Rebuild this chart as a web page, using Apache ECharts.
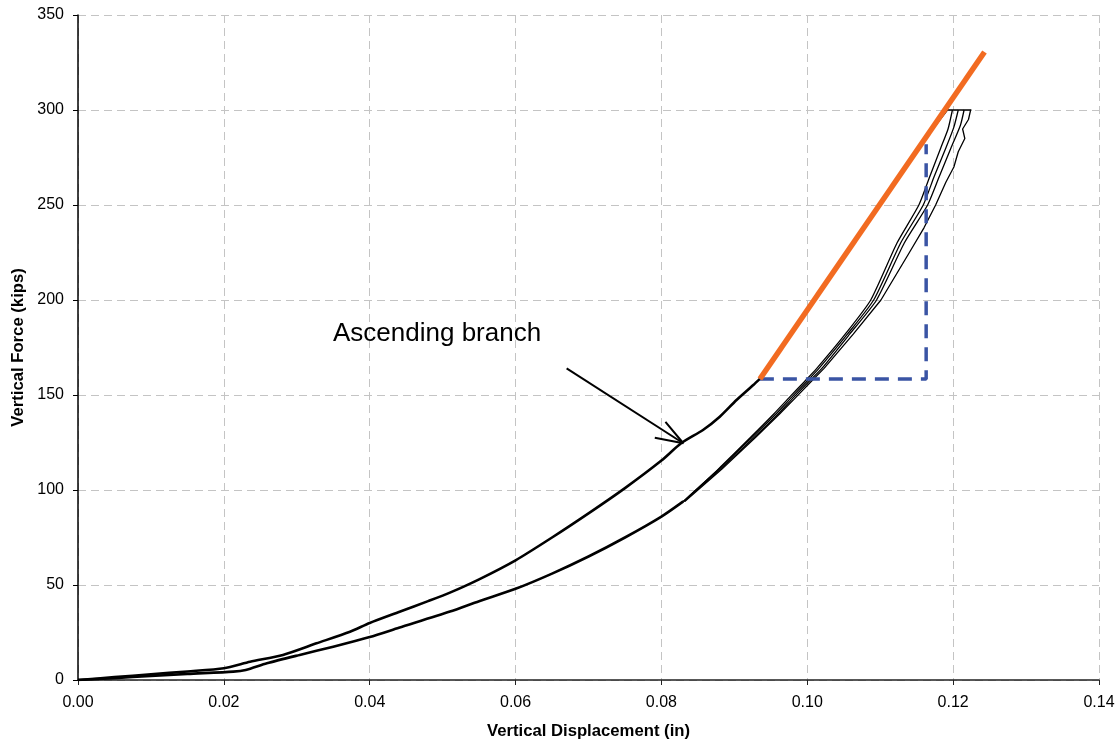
<!DOCTYPE html>
<html>
<head>
<meta charset="utf-8">
<script src="https://cdn.jsdelivr.net/npm/echarts@6/dist/echarts.min.js"></script>
<style>
html,body{margin:0;padding:0;background:#fff;}
#chart{width:1119px;height:744px;}
</style>
</head>
<body>
<div id="chart"></div>
<script>
// ---- data (x: vertical displacement in, y: vertical force kips) ----
const xAxisName = 'Vertical Displacement (in)';
const yAxisName = 'Vertical Force (kips)';
const annotationText = 'Ascending branch';

// ascending (loading) branch: curved part, then straight part up to the 300 kip plateau
const ascending = [[0,0],[0.005,1.5],[0.010,3.0],[0.015,4.5],[0.020,6.2],[0.0236,9.6],[0.0281,13.2],[0.0327,19.3],
  [0.0373,25.4],[0.040,30.0],[0.0441,35.9],[0.048,41.5],[0.051,46],[0.055,53],[0.060,63],[0.065,75],[0.070,87.7],
  [0.075,101],[0.080,115.5],[0.0827,124.6],[0.0857,131.6],[0.088,138.6],[0.0903,147.4],[0.0926,155.3],[0.0935,158.5]];
const ascendingTop = [[0.0935,158.5],[0.097,178],[0.100,195],[0.105,223],[0.110,251],[0.115,279],[0.1192,300],[0.1225,300]];

// descending cycles (upper parts differ, lower tail shared)
const cycle1Top = [[0.1199,300],[0.1193,290],[0.1183,280],[0.1168,265],[0.1153,250],[0.1123,230],[0.1087,200],
  [0.1052,182],[0.1013,164],[0.0996,157],[0.0976,149],[0.0954,140],[0.0923,128],[0.0878,111],[0.0830,94]];
const cycle2Top = [[0.1207,300],[0.1201,291],[0.1190,280],[0.1174,265],[0.1159,250],[0.1128,230],[0.1091,200],
  [0.1055,182],[0.1016,164],[0.0999,157],[0.0979,149],[0.0957,140],[0.0925,128],[0.0879,111],[0.0830,94]];
const cycle3Top = [[0.1215,300],[0.1210,292],[0.1197,280],[0.1181,265],[0.1165,250],[0.1133,230],[0.1095,200],
  [0.1058,182],[0.1020,164],[0.1002,157],[0.0982,149],[0.0960,140],[0.0928,128],[0.0881,111],[0.0831,94]];
const cycle4Top = [[0.1224,300],[0.1221,295],[0.1213,290],[0.1216,285],[0.1207,278],[0.1201,270],[0.1190,262],
  [0.1176,250],[0.1160,238],[0.1140,225],[0.1101,200],[0.1063,182],[0.1023,164],[0.1005,157],[0.0985,149],
  [0.0962,140],[0.0930,128],[0.0883,111],[0.0832,94]];
const lowerTail = [[0.0830,94],[0.0800,86],[0.0750,75],[0.0700,65],[0.0650,56],[0.0600,48],[0.0550,41.5],
  [0.0510,36],[0.0440,27.5],[0.0400,22.6],[0.0350,17.5],[0.0304,13.2],[0.0259,8.8],[0.0230,5.3],[0.0213,4.4],
  [0.0150,3.2],[0.0100,2.1],[0.0050,1.0],[0,0]];

// tangent (stiffness) line and its triangle
const tangentLine = [[0.0935,158.4],[0.1243,330.5]];
const stiffTriangle = [[0.0935,158.4],[0.1163,158.4],[0.1163,282]];

// annotation arrow
const arrowShaft = [[0.0670,164.0],[0.0830,124.6]];
const arrowHead = [[0.08055,135.9],[0.0830,124.6],[0.07909,127.5]];

const chart = echarts.init(document.getElementById('chart'), null, {renderer:'canvas'});
const font = '"Liberation Sans", Arial, sans-serif';
const gridLine = {show:true, lineStyle:{color:'#c4c4c4', type:[8,5], width:1}};

function curve(data, w, smooth) {
  return {type:'line', data:data, showSymbol:false, symbol:'none', animation:false, z:3,
    smooth:smooth || false, lineStyle:{color:'#000', width:w, join:'round'}};
}

chart.setOption({
  backgroundColor:'#fff',
  animation:false,
  grid:{left:78, right:20, top:15, bottom:64, containLabel:false, outerBoundsMode:'none'},
  xAxis:{type:'value', min:0, max:0.14, interval:0.02,
    name:xAxisName, nameLocation:'middle', nameGap:43,
    nameTextStyle:{fontFamily:font, fontSize:16.7, fontWeight:'bold', color:'#000'},
    axisLine:{show:true, onZero:false, lineStyle:{color:'#222', width:1.5}},
    axisTick:{show:true, length:5, lineStyle:{color:'#222'}},
    axisLabel:{fontFamily:font, fontSize:16, color:'#000', margin:15, formatter:v=>v.toFixed(2)},
    splitLine:gridLine},
  yAxis:{type:'value', min:0, max:350, interval:50,
    name:yAxisName, nameLocation:'middle', nameGap:51, nameRotate:90,
    nameTextStyle:{fontFamily:font, fontSize:16.7, fontWeight:'bold', color:'#000'},
    axisLine:{show:true, lineStyle:{color:'#000', width:1.5}},
    axisTick:{show:true, length:5, lineStyle:{color:'#000'}},
    axisLabel:{fontFamily:font, fontSize:16, color:'#000', margin:14},
    splitLine:gridLine},
  series:[
    curve(ascending, 2.6, 0.25),
    curve(ascendingTop, 1.6, false),
    curve(lowerTail, 2.6, 0.25),
    curve(cycle1Top, 1.3, 0.2),
    curve(cycle2Top, 1.3, 0.2),
    curve(cycle3Top, 1.3, 0.2),
    curve(cycle4Top, 1.3, false),
    {type:'line', data:stiffTriangle, showSymbol:false, symbol:'none', animation:false, z:4,
      lineStyle:{color:'#3a54a4', width:3.5, type:[14,9]}},
    {type:'line', data:tangentLine, showSymbol:false, symbol:'none', animation:false, z:5,
      lineStyle:{color:'#f26b21', width:5.5, cap:'butt'}},
    {type:'line', data:arrowShaft, showSymbol:false, symbol:'none', animation:false, z:5,
      lineStyle:{color:'#000', width:2}},
    {type:'line', data:arrowHead, showSymbol:false, symbol:'none', animation:false, z:5,
      lineStyle:{color:'#000', width:2}}
  ],
  graphic:[
    {type:'text', left:333, top:321, z:10,
      style:{text:annotationText, fontFamily:font, fontSize:26, fill:'#000'}}
  ]
});
</script>
</body>
</html>
